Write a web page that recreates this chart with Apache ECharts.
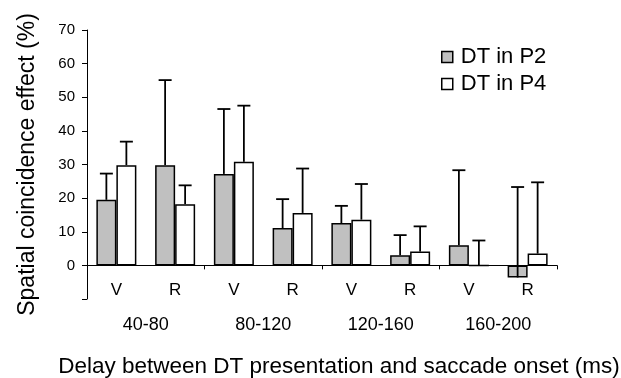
<!DOCTYPE html>
<html>
<head>
<meta charset="utf-8">
<script src="https://cdn.jsdelivr.net/npm/echarts@6/dist/echarts.min.js"></script>
<style>
    html, body { margin: 0; padding: 0; background: #fff; }
    #chart { width: 621px; height: 378px; }
</style>
</head>
<body>
<div id="chart"></div>
<script>
var categories = ['V', 'R', 'V', 'R', 'V', 'R', 'V', 'R'];
var groups = ['40-80', '80-120', '120-160', '160-200'];
var p2Values = [19.5, 29.8, 27.2, 11.1, 12.6, 3.0, 6.0, -3.6];
var p2Errors = [7.8, 25.3, 19.3, 8.6, 5.1, 6.0, 22.3, 26.9];
var p4Values = [29.8, 18.2, 30.8, 15.6, 13.6, 4.1, 0, 3.5];
var p4Errors = [7.0, 5.6, 16.7, 13.2, 10.6, 7.5, 7.4, 21.2];
var yTicks = { min: -10, max: 70, step: 10 };

var font = 'Liberation Sans, Arial, sans-serif';

function errorData(values, errors) {
    return values.map(function (v, i) {
        return [i, v, v + errors[i]];
    });
}

// error bars (upper only), drawn on top of the bars
function errorSeries(name, values, errors, offset) {
    return {
        name: name + ' err',
        type: 'custom',
        xAxisIndex: 0,
        z: 5,
        silent: true,
        data: errorData(values, errors),
        renderItem: function (params, api) {
            var x = api.coord([api.value(0), 0])[0] + offset;
            var y0 = api.coord([api.value(0), api.value(1)])[1];
            var y1 = api.coord([api.value(0), api.value(2)])[1];
            var style = { stroke: '#000', lineWidth: 1.8 };
            return {
                type: 'group',
                children: [
                    { type: 'line', shape: { x1: x, y1: y0, x2: x, y2: y1 }, style: style },
                    { type: 'line', shape: { x1: x - 6.5, y1: y1, x2: x + 6.5, y2: y1 }, style: style }
                ]
            };
        }
    };
}

var option = {
    animation: false,
    textStyle: { fontFamily: font, color: '#000' },
    grid: { left: 87, right: 64, top: 30, bottom: 79, outerBoundsMode: 'none', containLabel: false },
    legend: {
        orient: 'vertical',
        left: 441,
        top: 46,
        padding: 0,
        itemWidth: 11,
        itemHeight: 11,
        itemGap: 5,
        icon: 'rect',
        data: ['DT in P2', 'DT in P4'],
        itemStyle: { borderColor: '#000', borderWidth: 1.5 },
        textStyle: { fontFamily: font, fontSize: 22, color: '#000', padding: [0, 0, 0, 3] }
    },
    xAxis: [
        {
            // zero line with group ticks
            type: 'category',
            data: categories,
            axisLine: { onZero: true, lineStyle: { color: '#000', width: 1 } },
            axisTick: {
                show: true,
                length: 4,
                lineStyle: { color: '#000' },
                interval: function (index) { return index % 2 === 0; }
            },
            axisLabel: { show: false },
            splitLine: { show: false }
        },
        {
            // V / R labels
            type: 'category',
            data: categories,
            position: 'bottom',
            axisLine: { show: false, onZero: false },
            axisTick: { show: false },
            axisLabel: { margin: -17, fontSize: 17, color: '#000', fontFamily: font, interval: 0 }
        },
        {
            type: 'category',
            data: groups,
            position: 'bottom',
            axisLine: { show: false, onZero: false },
            axisTick: { show: false },
            axisLabel: { margin: 17, fontSize: 18, color: '#000', fontFamily: font },
            name: 'Delay between DT presentation and saccade onset (ms)',
            nameLocation: 'middle',
            nameGap: 56,
            nameTextStyle: { fontSize: 22.5, color: '#000', fontFamily: font, padding: [0, 0, 0, 34] }
        }
    ],
    yAxis: {
        type: 'value',
        min: yTicks.min,
        max: yTicks.max,
        interval: yTicks.step,
        axisLine: { show: true, lineStyle: { color: '#000', width: 1 } },
        axisTick: { show: true, length: 5, lineStyle: { color: '#000' } },
        axisLabel: {
            margin: 12,
            fontSize: 15,
            color: '#000',
            fontFamily: font,
            formatter: function (v) { return v < 0 ? '' : v; }
        },
        splitLine: { show: false },
        name: 'Spatial coincidence effect (%)',
        nameLocation: 'middle',
        nameGap: 48,
        nameTextStyle: { fontSize: 23, color: '#000', fontFamily: font }
    },
    series: [
        {
            name: 'DT in P2',
            type: 'bar',
            xAxisIndex: 0,
            data: p2Values,
            barWidth: 20,
            barGap: '0%',
            itemStyle: { color: '#c0c0c0', borderColor: '#000', borderWidth: 1.5 }
        },
        {
            name: 'DT in P4',
            type: 'bar',
            xAxisIndex: 0,
            data: p4Values,
            barWidth: 20,
            barGap: '0%',
            itemStyle: { color: '#ffffff', borderColor: '#000', borderWidth: 1.5 }
        },
        errorSeries('DT in P2', p2Values, p2Errors, -10),
        errorSeries('DT in P4', p4Values, p4Errors, 10)
    ]
};

var myChart = echarts.init(document.getElementById('chart'));
myChart.setOption(option);
</script>
</body>
</html>
